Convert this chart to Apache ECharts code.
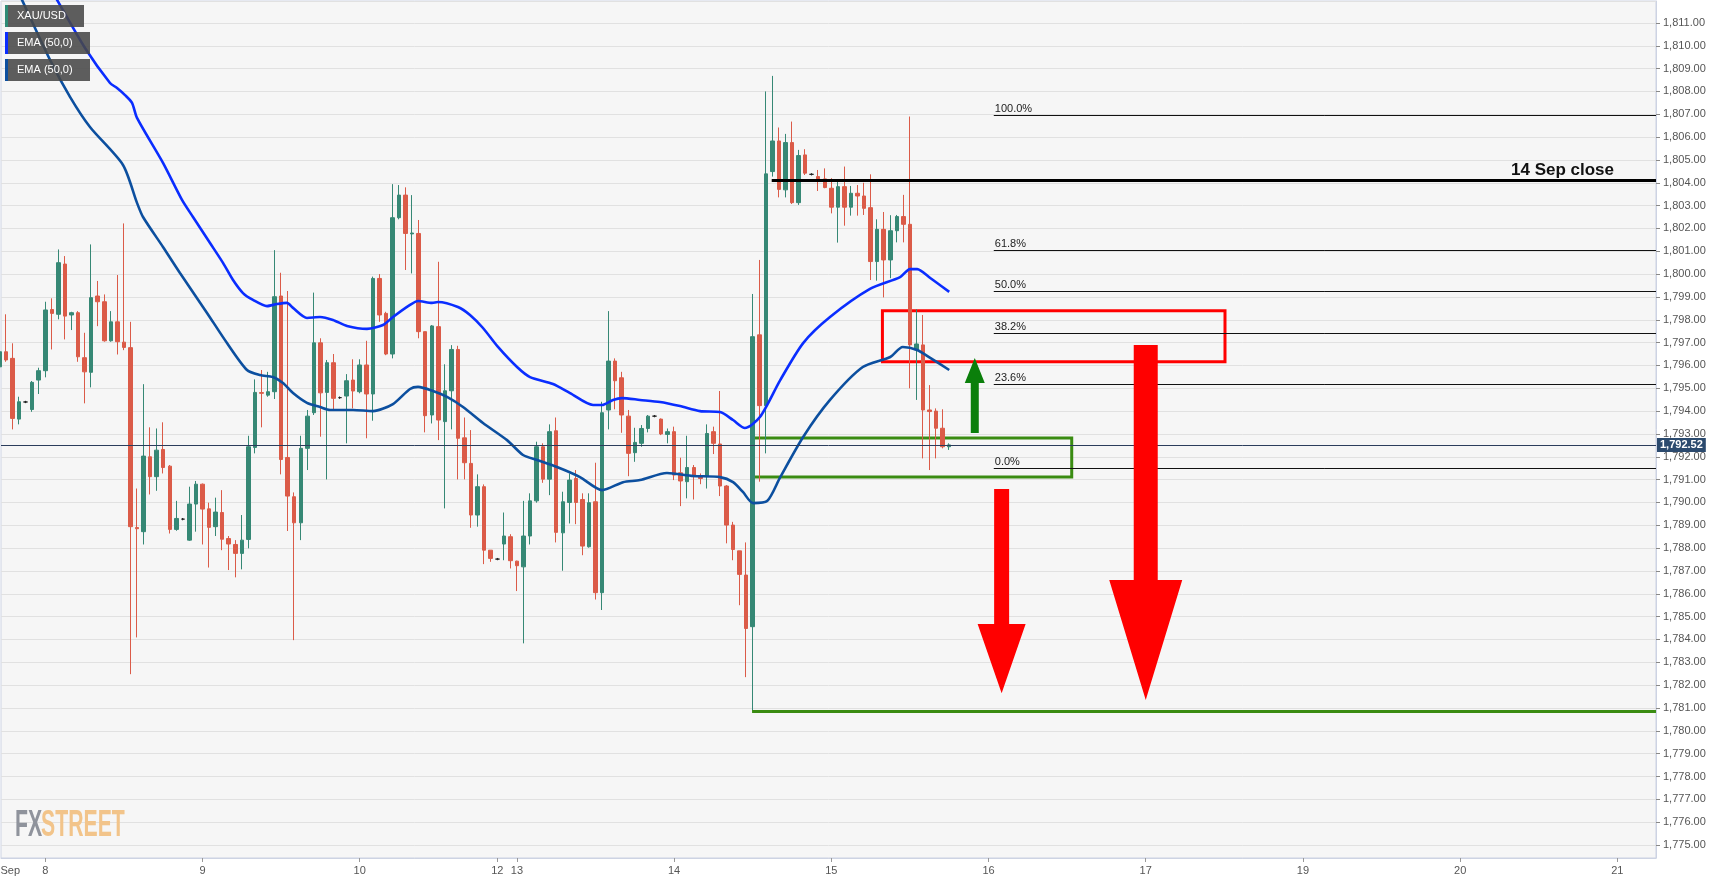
<!DOCTYPE html>
<html>
<head>
<meta charset="utf-8">
<script src="https://cdn.jsdelivr.net/npm/echarts@6/dist/echarts.min.js"></script>
<style>
html,body{margin:0;padding:0;background:#ffffff;}
#chart{width:1726px;height:884px;}
</style>
</head>
<body>
<div id="chart"></div>
<script>
// ---------------- DATA ----------------
// hourly candles, index 0 = first full candle (Sep 7, late); index -1 partly cut at left
const firstCandleIndex = -1;
const candleOpen = [
1795.94,1796.60,1796.31,1793.65,1794.40,1794.07,1795.36,1795.77,1798.45,1798.24,
1800.44,1798.21,1798.31,1796.34,1795.70,1799.04,1798.79,1797.08,1797.91,1797.02,
1796.78,1788.90,1788.72,1792.00,1791.13,1792.32,1791.59,1788.82,1789.27,1788.35,
1789.93,1790.80,1789.72,1788.94,1789.56,1788.42,1788.16,1787.77,1788.38,1792.41,
1794.81,1794.70,1794.85,1799.04,1791.97,1790.25,1789.11,1792.37,1793.93,1796.99,
1794.82,1796.12,1794.59,1794.66,1795.36,1794.85,1796.02,1794.75,1799.81,1798.28,
1796.50,1802.47,1803.46,1801.76,1801.78,1797.48,1793.83,1797.70,1793.54,1794.89,
1796.70,1792.83,1791.71,1789.45,1790.69,1787.91,1787.52,1788.18,1788.50,1787.43,
1787.18,1788.53,1790.07,1792.44,1791.02,1793.14,1788.67,1790.00,1791.05,1790.13,
1788.06,1790.03,1786.05,1794.05,1796.19,1795.46,1793.78,1792.18,1792.59,1793.24,
1793.78,1793.65,1792.98,1793.10,1791.30,1790.91,1791.53,1791.13,1791.13,1793.10,
1792.56,1790.72,1789.01,1787.88,1786.82,1784.56,1797.34,1794.24,1804.49,1805.83,
1803.69,1805.76,1803.13,1805.22,1804.37,1804.27,1804.17,1803.76,1802.93,1803.83,
1802.93,1803.54,1803.42,1802.91,1800.55,1801.96,1800.62,1801.90,1802.52,1802.18,
1796.68,1796.90,1794.05,1794.00,1793.25,1792.44
];
const candleClose = [
1796.60,1796.24,1793.68,1794.41,1794.40,1795.26,1795.77,1798.43,1798.28,1800.50,
1798.16,1798.31,1796.38,1795.72,1798.97,1798.79,1797.08,1797.91,1797.04,1796.79,
1788.94,1788.85,1792.03,1791.13,1792.29,1791.53,1788.82,1789.30,1789.27,1789.93,
1790.80,1789.71,1788.91,1789.58,1788.39,1788.18,1787.77,1788.35,1792.44,1794.82,
1794.78,1794.85,1799.01,1791.88,1790.28,1789.11,1792.37,1793.78,1796.99,1794.80,
1796.12,1794.56,1794.59,1795.33,1794.88,1796.02,1794.75,1799.81,1798.21,1796.50,
1802.47,1803.46,1801.78,1801.80,1797.48,1793.80,1797.73,1793.61,1794.89,1796.70,
1792.81,1791.74,1789.45,1790.69,1787.91,1787.55,1787.52,1788.53,1787.45,1787.23,
1788.53,1790.07,1792.44,1791.02,1793.10,1788.69,1790.03,1790.98,1790.00,1788.09,
1789.99,1786.05,1793.93,1796.19,1795.33,1793.83,1792.15,1792.63,1793.24,1793.78,
1793.78,1793.00,1793.10,1791.20,1790.94,1791.53,1791.13,1791.05,1793.02,1792.59,
1790.72,1789.01,1787.94,1786.85,1784.48,1797.26,1794.24,1804.39,1805.83,1803.71,
1805.76,1803.13,1805.19,1804.42,1804.37,1804.17,1803.79,1802.93,1803.83,1802.93,
1803.54,1803.42,1802.88,1800.55,1801.96,1800.62,1801.90,1802.52,1802.18,1796.90,
1796.94,1794.05,1793.98,1793.25,1792.44,1792.52
];
const candleLow = [
1795.58,1796.16,1793.20,1793.42,1794.35,1793.97,1794.75,1795.48,1796.70,1798.02,
1797.14,1797.55,1796.16,1794.34,1795.04,1797.72,1797.04,1797.04,1796.48,1796.67,
1782.48,1784.09,1788.16,1790.35,1790.51,1791.27,1788.64,1788.76,1789.22,1788.32,
1788.72,1788.16,1787.15,1788.53,1787.91,1787.04,1786.72,1787.07,1787.99,1792.15,
1793.29,1794.63,1794.53,1791.23,1788.75,1783.97,1788.35,1791.42,1793.83,1792.88,
1791.01,1794.05,1794.54,1792.59,1794.12,1794.78,1792.81,1793.58,1797.91,1796.45,
1796.31,1802.40,1800.18,1800.03,1797.19,1793.07,1793.46,1792.73,1789.74,1793.20,
1791.01,1791.01,1788.89,1788.94,1787.30,1787.40,1787.47,1787.47,1787.11,1786.12,
1783.83,1788.16,1789.99,1790.86,1790.32,1788.25,1787.01,1789.08,1789.05,1787.69,
1788.02,1785.75,1785.29,1793.20,1794.08,1793.05,1791.15,1791.78,1792.44,1793.07,
1793.73,1792.95,1792.59,1790.98,1789.84,1790.18,1790.13,1790.80,1790.61,1792.12,
1790.28,1788.21,1787.47,1785.50,1782.35,1780.85,1790.91,1792.15,1804.27,1803.36,
1803.36,1803.07,1803.03,1804.34,1804.32,1803.64,1803.76,1802.66,1801.38,1802.12,
1802.56,1802.56,1802.59,1799.74,1799.71,1798.98,1799.82,1801.39,1801.39,1795.00,
1794.49,1791.93,1791.42,1791.93,1792.37,1792.30
];
const candleHigh = [
1797.14,1798.24,1796.97,1794.63,1794.45,1795.32,1795.90,1798.79,1798.94,1801.08,
1800.79,1798.35,1798.38,1797.43,1801.30,1799.70,1799.11,1798.38,1799.96,1802.22,
1797.91,1790.61,1795.18,1793.29,1793.24,1793.51,1791.64,1790.07,1789.32,1790.69,
1790.94,1790.83,1789.99,1790.21,1790.54,1788.53,1788.35,1789.45,1792.92,1795.39,
1795.80,1795.72,1801.05,1800.06,1799.26,1790.44,1792.92,1794.05,1799.19,1797.19,
1796.24,1796.50,1794.64,1795.62,1796.27,1796.27,1797.08,1799.89,1800.00,1798.35,
1803.94,1803.90,1803.80,1803.46,1802.37,1797.48,1797.77,1800.54,1796.05,1796.89,
1796.86,1793.72,1793.17,1791.23,1790.79,1787.91,1787.57,1789.56,1788.61,1787.45,
1790.07,1790.40,1792.66,1792.59,1793.42,1793.72,1790.47,1791.27,1791.42,1790.40,
1790.40,1791.74,1794.41,1798.38,1796.31,1795.72,1794.05,1793.27,1793.39,1793.83,
1793.83,1793.68,1793.24,1793.32,1791.96,1792.92,1791.64,1791.27,1793.42,1793.32,
1794.88,1790.76,1789.15,1787.88,1788.25,1799.13,1800.62,1808.00,1808.68,1806.42,
1806.14,1806.68,1805.44,1805.47,1804.42,1804.56,1804.63,1804.20,1804.05,1804.71,
1803.86,1803.90,1804.00,1804.37,1802.40,1802.72,1802.58,1802.59,1803.47,1806.90,
1798.46,1798.21,1795.14,1794.12,1794.08,1792.59
];

// EMA lines, read as [candle index, price] points
const emaBright = [
[5.19,1813.28],[7.79,1812.01],[12.06,1809.90],[15.88,1808.37],[16.95,1808.15],[18.17,1807.84],
[19.24,1807.50],[20.0,1806.84],[23.97,1804.87],[26.87,1803.25],[28.55,1802.50],[31.15,1801.36],
[33.13,1800.49],[34.66,1799.74],[36.18,1799.17],[37.71,1798.87],[39.85,1798.60],[41.37,1798.69],
[42.9,1798.74],[43.82,1798.52],[45.95,1798.08],[47.94,1798.12],[49.92,1797.99],[52.06,1797.73],
[55.11,1797.60],[57.56,1797.77],[59.08,1798.12],[61.68,1798.65],[62.9,1798.82],[65.04,1798.74],
[65.95,1798.78],[69.0,1798.56],[70.84,1798.21],[72.82,1797.64],[75.11,1796.81],[78.02,1795.93],
[80.0,1795.49],[83.51,1795.19],[86.11,1794.79],[89.62,1794.27],[91.0,1794.27],[92.67,1794.49],
[94.05,1794.57],[96.79,1794.49],[99.85,1794.40],[102.9,1794.22],[105.95,1794.00],[109.0,1793.96],
[111.0,1793.61],[112.8,1793.26],[115.1,1793.74],[118.2,1795.36],[121.7,1796.98],[125.8,1798.12],
[131.9,1799.35],[136.5,1799.87],[138.0,1800.22],[139.1,1800.22],[141.1,1799.83],[144.0,1799.22]
];
const emaDark = [
[-0.15,1813.58],[2.44,1812.01],[6.72,1809.38],[9.77,1807.76],[12.82,1806.44],[17.86,1804.78],
[20.0,1803.12],[20.92,1802.50],[23.97,1801.19],[26.56,1800.05],[30.69,1798.30],[33.74,1796.98],
[36.79,1795.80],[38.78,1795.58],[40.76,1795.49],[42.29,1795.23],[43.82,1794.79],[45.95,1794.36],
[47.94,1794.18],[49.47,1794.05],[52.98,1794.05],[56.03,1794.00],[59.08,1794.31],[61.68,1794.97],
[62.9,1795.06],[65.19,1794.88],[67.33,1794.62],[69.77,1794.18],[72.82,1793.48],[76.49,1792.73],
[78.93,1792.08],[81.07,1791.86],[84.12,1791.55],[87.63,1791.11],[91.0,1790.54],[94.2,1790.89],
[96.79,1790.98],[100.9,1791.29],[104.9,1791.16],[109.0,1791.11],[111.0,1790.89],[112.5,1790.46],
[114.05,1789.97],[116.2,1790.06],[118.2,1791.11],[121.7,1792.87],[125.8,1794.49],[130.8,1795.93],
[135.0,1796.37],[136.9,1796.81],[139.1,1796.68],[141.1,1796.33],[144.0,1795.80]
];

// x axis: day labels at candle indexes
const dayTickIndex = [6, 30, 54, 75, 78, 102, 126, 150, 174, 198, 222, 246];
const dayTickLabel = ['8', '9', '10', '12', '13', '14', '15', '16', '17', '19', '20', '21'];
const monthLabelIndex = 0.66;
const monthLabel = 'Sep';

// Fibonacci retracement levels
const fibValue = [1806.96, 1801.04, 1799.25, 1797.41, 1795.17, 1791.50];
const fibLabel = ['100.0%', '61.8%', '50.0%', '38.2%', '23.6%', '0.0%'];
const fibStartIndex = 150.8;

const currentPrice = 1792.52;
const sepCloseValue = 1804.12;
const sepCloseStartIndex = 116.9;
const supportValue = 1780.86;
const supportStartIndex = 113.9;

// boxes: [startIndex, topValue, endIndex, bottomValue]
const resistanceBox = [133.8, 1798.40, 186.1, 1796.16];
const supportBox = [113.9, 1792.82, 162.7, 1791.11];

// arrows: [index, tailValue, headBaseValue, tipValue]
const arrowData = [
  [147.9, 1793.04, 1795.23, 1796.33],
  [152.0, 1790.59, 1784.68, 1781.65],
  [174.0, 1796.90, 1786.60, 1781.35]
];

// ---------------- STYLE / LAYOUT ----------------
const X_MIN = -0.763, X_MAX = 251.9;
const Y_MIN = 1774.43, Y_MAX = 1811.96;
const arrowStyle = [
  {shaft: 8, head: 20, color: '#0b7f0b'},
  {shaft: 15, head: 48, color: '#ff0000'},
  {shaft: 24, head: 73, color: '#ff0000'}
];
const UP = '#368875', DOWN = '#db5b48';
const FONT = 'Arial, "Liberation Sans", sans-serif';

function fmtPrice(v) {
  return v.toLocaleString('en-US', {minimumFractionDigits: 2, maximumFractionDigits: 2});
}

const candleData = candleOpen.map((o, k) => [firstCandleIndex + k, o, candleClose[k], candleLow[k], candleHigh[k]]);

const fibLines = fibValue.map((v, k) => [
  {coord: [fibStartIndex, v], lineStyle: {color: '#111', width: 1, type: 'solid'},
   label: {show: true, formatter: fibLabel[k], position: 'insideStartTop', distance: [1, 1],
           color: '#222', fontSize: 11, fontFamily: FONT}},
  {coord: [X_MAX, v]}
]);

const chart = echarts.init(document.getElementById('chart'), null, {renderer: 'canvas'});

const option = {
  animation: false,
  backgroundColor: '#ffffff',
  grid: {left: 1, right: 70, top: 1, bottom: 26, show: true, containLabel: false,
         outerBoundsMode: 'none',
         backgroundColor: '#f6f6f6', borderColor: '#cdd3e3', borderWidth: 1},
  xAxis: {
    type: 'value', min: X_MIN, max: X_MAX,
    axisLine: {show: true, onZero: false, lineStyle: {color: '#cdd3e3'}},
    axisTick: {show: true, customValues: dayTickIndex, length: 4, lineStyle: {color: '#999'}},
    axisLabel: {
      customValues: [monthLabelIndex].concat(dayTickIndex),
      formatter: function (v) {
        if (Math.abs(v - monthLabelIndex) < 1e-6) return monthLabel;
        const k = dayTickIndex.findIndex(d => Math.abs(d - v) < 1e-6);
        return k >= 0 ? dayTickLabel[k] : '';
      },
      color: '#555', fontSize: 11, fontFamily: FONT, margin: 7
    },
    splitLine: {show: false}
  },
  yAxis: {
    type: 'value', position: 'right', min: Y_MIN, max: Y_MAX,
    minInterval: 1, maxInterval: 1,
    axisLine: {show: true, onZero: false, lineStyle: {color: '#cdd3e3'}},
    axisTick: {show: true, length: 4, lineStyle: {color: '#888'}},
    axisLabel: {
      showMinLabel: false, showMaxLabel: false,
      formatter: function (v) {
        return Math.abs(v - Math.round(v)) < 1e-6 ? fmtPrice(v) : '';
      },
      color: '#555', fontSize: 11, fontFamily: FONT, margin: 7
    },
    splitLine: {show: true, lineStyle: {color: '#e1e1e1', width: 1}}
  },
  series: [
    {
      type: 'candlestick', name: 'XAU/USD',
      data: candleData,
      barWidth: 4,
      itemStyle: {color: UP, color0: DOWN, borderColor: UP, borderColor0: DOWN,
                  borderColorDoji: '#222', borderWidth: 1},
      z: 2,
      markLine: {
        silent: true, symbol: ['none', 'none'], animation: false,
        data: fibLines.concat([
          [{coord: [sepCloseStartIndex, sepCloseValue], lineStyle: {color: '#000', width: 3, type: 'solid'},
            label: {show: true, formatter: '14 Sep close', position: 'insideEndTop', distance: [42, 1],
                    color: '#111', fontSize: 17, fontWeight: 'bold', fontFamily: FONT}},
           {coord: [X_MAX, sepCloseValue]}],
          [{coord: [supportStartIndex, supportValue], lineStyle: {color: '#3a8c12', width: 3, type: 'solid'},
            label: {show: false}},
           {coord: [X_MAX, supportValue]}],
          [{coord: [X_MIN, currentPrice], lineStyle: {color: '#2b3d5c', width: 1, type: 'solid'},
            label: {show: true, position: 'end', formatter: fmtPrice(currentPrice), distance: 1,
                    backgroundColor: '#2b4a6e', color: '#fff', fontWeight: 'bold', fontSize: 11,
                    fontFamily: FONT, padding: [2, 3, 1, 3]}},
           {coord: [X_MAX, currentPrice]}]
        ])
      },
      markArea: {
        silent: true,
        data: [
          [{coord: [resistanceBox[0], resistanceBox[1]],
            itemStyle: {color: 'rgba(0,0,0,0)', borderColor: '#ff0000', borderWidth: 3}},
           {coord: [resistanceBox[2], resistanceBox[3]]}],
          [{coord: [supportBox[0], supportBox[1]],
            itemStyle: {color: 'rgba(0,0,0,0)', borderColor: '#3a8c12', borderWidth: 3}},
           {coord: [supportBox[2], supportBox[3]]}]
        ]
      }
    },
    {
      type: 'line', name: 'EMA (50,0) a', data: emaBright, showSymbol: false, symbol: 'none',
      smooth: 0.25, lineStyle: {color: '#0a2dff', width: 2.6}, z: 3, clip: true
    },
    {
      type: 'line', name: 'EMA (50,0) b', data: emaDark, showSymbol: false, symbol: 'none',
      smooth: 0.25, lineStyle: {color: '#0c4f9f', width: 2.6}, z: 3, clip: true
    },
    {
      type: 'custom', name: 'arrows', data: arrowData, z: 6, clip: false,
      encode: {x: 0, y: [1, 2, 3]},
      renderItem: function (params, api) {
        const st = arrowStyle[params.dataIndex];
        const tail = api.coord([api.value(0), api.value(1)]);
        const base = api.coord([api.value(0), api.value(2)]);
        const tip = api.coord([api.value(0), api.value(3)]);
        const x = tail[0], s = st.shaft / 2, h = st.head / 2;
        return {
          type: 'polygon',
          shape: {points: [[x - s, tail[1]], [x + s, tail[1]], [x + s, base[1]], [x + h, base[1]],
                           [x, tip[1]], [x - h, base[1]], [x - s, base[1]]]},
          style: {fill: st.color}
        };
      }
    }
  ],
  graphic: [
    {type: 'rect', z: 100, shape: {x: 5, y: 5, width: 79, height: 22}, style: {fill: 'rgba(72,72,72,0.88)'}},
    {type: 'rect', z: 101, shape: {x: 5, y: 5, width: 3, height: 22}, style: {fill: '#2e8b76'}},
    {type: 'text', z: 101, x: 17, y: 16, style: {text: 'XAU/USD', fill: '#fff', font: '11px ' + FONT, verticalAlign: 'middle'}},
    {type: 'rect', z: 100, shape: {x: 5, y: 32, width: 85, height: 22}, style: {fill: 'rgba(72,72,72,0.88)'}},
    {type: 'rect', z: 101, shape: {x: 5, y: 32, width: 3, height: 22}, style: {fill: '#0a2dff'}},
    {type: 'text', z: 101, x: 17, y: 43, style: {text: 'EMA (50,0)', fill: '#fff', font: '11px ' + FONT, verticalAlign: 'middle'}},
    {type: 'rect', z: 100, shape: {x: 5, y: 59, width: 85, height: 22}, style: {fill: 'rgba(72,72,72,0.88)'}},
    {type: 'rect', z: 101, shape: {x: 5, y: 59, width: 3, height: 22}, style: {fill: '#0c4f9f'}},
    {type: 'text', z: 101, x: 17, y: 70, style: {text: 'EMA (50,0)', fill: '#fff', font: '11px ' + FONT, verticalAlign: 'middle'}},
    {type: 'text', z: 1, x: 15, y: 826, scaleX: 0.59, style: {text: 'FX', fill: '#8f939c', font: 'bold 36px "Liberation Sans Narrow", Arial', verticalAlign: 'middle'}},
    {type: 'text', z: 1, x: 41, y: 826, scaleX: 0.59, style: {text: 'STREET', fill: '#f2c48a', font: 'bold 36px "Liberation Sans Narrow", Arial', verticalAlign: 'middle'}}
  ]
};
chart.setOption(option);
</script>
</body>
</html>
